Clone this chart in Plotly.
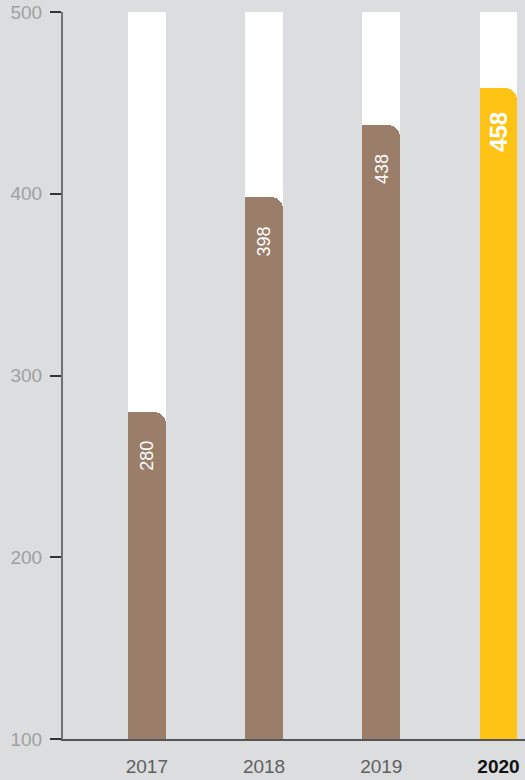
import plotly.graph_objects as go

# Annual values
years = ["2017", "2018", "2019", "2020"]
values = [280, 398, 438, 458]
bar_colors = ["#9a7e6a", "#9a7e6a", "#9a7e6a", "#fec314"]
label_sizes = [18, 18, 18, 24]
tick_values = [100, 200, 300, 400, 500]
y_min, y_max = 100, 500

BG = "#dcdddf"
BAR_W = 0.323
FONT = "Liberation Sans, Arial, Helvetica, sans-serif"

fig = go.Figure()

# White track behind every bar, up to the top of the scale (lower layer)
fig.add_trace(go.Bar(
    x=years, y=[y_max] * len(years), width=BAR_W,
    marker=dict(color="white", line=dict(width=0)),
    hoverinfo="skip", showlegend=False, yaxis="y",
))

# Value bars with rounded top corners (upper layer)
fig.add_trace(go.Bar(
    x=years, y=values, width=BAR_W,
    marker=dict(color=bar_colors, line=dict(width=0), cornerradius=12),
    showlegend=False, yaxis="y2",
))

# Left half of each value bar again, keeping the top-left corner square
fig.add_trace(go.Bar(
    x=years, y=values, width=BAR_W / 2, offset=-BAR_W / 2,
    marker=dict(color=bar_colors, line=dict(width=0)),
    hoverinfo="skip", showlegend=False, yaxis="y2",
))

# Rotated value labels near the top of each bar
for i, (v, fs) in enumerate(zip(values, label_sizes)):
    bold = fs > 18
    fig.add_annotation(
        x=i, y=v, xref="x", yref="y2",
        text=f"<b>{v}</b>" if bold else str(v),
        textangle=-90, showarrow=False,
        yanchor="top", xanchor="center", yshift=-22 if bold else -27,
        font=dict(family=FONT, size=fs, color="white"),
    )

ticktext = [
    y if y != years[-1] else f'<span style="color:#111111"><b>{y}</b></span>'
    for y in years
]

fig.update_layout(
    width=525, height=780,
    margin=dict(l=63, r=0, t=12, b=41),
    paper_bgcolor=BG, plot_bgcolor=BG,
    barmode="overlay", bargap=0,
    font=dict(family=FONT),
    xaxis=dict(
        type="category", range=[-0.715, 3.226],
        tickvals=years, ticktext=ticktext,
        tickfont=dict(size=19, color="#606060"),
        showgrid=False, zeroline=False,
        showline=True, linecolor="#555555", linewidth=1.5,
        ticks="", ticklabelstandoff=9,
    ),
    yaxis=dict(
        range=[y_min, y_max], tickvals=tick_values,
        tickfont=dict(size=19, color="#a0a0a0"),
        showgrid=False, zeroline=False,
        showline=True, linecolor="#707070", linewidth=2,
        ticks="outside", ticklen=11, tickcolor="#333333", tickwidth=1.5,
        ticklabelstandoff=4,
    ),
    yaxis2=dict(
        range=[y_min, y_max], overlaying="y", visible=False,
        showgrid=False, zeroline=False,
    ),
)

fig.write_html("out.html")
